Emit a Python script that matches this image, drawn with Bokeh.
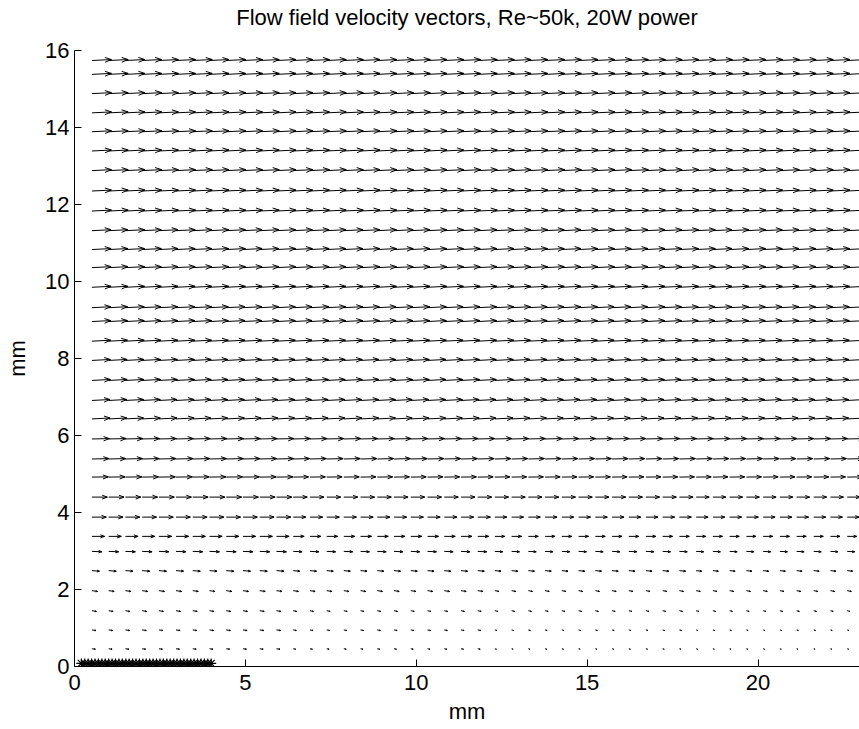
import numpy as np
from bokeh.plotting import figure
from bokeh.models import Range1d, FixedTicker, LinearAxis
from bokeh.embed import file_html
from bokeh.resources import INLINE

# ---------------- data ----------------
title_text = "Flow field velocity vectors, Re~50k, 20W power"
x_label = "mm"
y_label = "mm"
x_ticks = [0, 5, 10, 15, 20]
y_ticks = [0, 2, 4, 6, 8, 10, 12, 14, 16]

# measurement grid (mm)
x_cols = [0.51, 1.00, 1.49, 1.98, 2.47, 2.97, 3.46, 3.95, 4.44, 4.93,
          5.42, 5.91, 6.40, 6.89, 7.38, 7.88, 8.37, 8.86, 9.35, 9.84,
          10.33, 10.82, 11.31, 11.80, 12.30, 12.79, 13.28, 13.77, 14.26, 14.75,
          15.24, 15.73, 16.22, 16.72, 17.21, 17.70, 18.19, 18.68, 19.17, 19.66,
          20.15, 20.64, 21.13, 21.63, 22.12, 22.61]
y_rows = [0.46, 0.95, 1.45, 1.97, 2.49, 2.99, 3.38, 3.88, 4.40, 4.92, 5.39, 5.91,
          6.43, 6.91, 7.43, 7.95, 8.45, 8.96, 9.32, 9.85, 10.36, 10.83, 11.32, 11.83,
          12.35, 12.88, 13.39, 13.89, 14.38, 14.88, 15.38, 15.74]

# near-wall rows (first 12 rows): scaled u for column bands x<6, 6-12, 12-18, >18
band_edges = [6.0, 12.0, 18.0]
u_wall = [
    [0.10, 0.07, 0.045, 0.04],
    [0.12, 0.09, 0.06, 0.05],
    [0.13, 0.10, 0.09, 0.08],
    [0.16, 0.15, 0.12, 0.12],
    [0.22, 0.19, 0.18, 0.16],
    [0.29, 0.26, 0.23, 0.22],
    [0.37, 0.32, 0.29, 0.28],
    [0.42, 0.37, 0.35, 0.35],
    [0.45, 0.41, 0.40, 0.38],
    [0.48, 0.45, 0.44, 0.44],
    [0.50, 0.48, 0.47, 0.47],
    [0.51, 0.50, 0.50, 0.50],
]
v_wall = [-0.01, -0.015, -0.02, -0.02, -0.015, -0.01, 0.0, 0.0, 0.0, 0.005, 0.01, 0.01]

# outer rows (remaining 20 rows): scaled u and v
u_outer = [0.53, 0.53, 0.54, 0.54, 0.55, 0.55, 0.55, 0.56, 0.56, 0.56,
           0.56, 0.57, 0.57, 0.57, 0.57, 0.57, 0.57, 0.57, 0.57, 0.57]
v_outer = [0.025] * 20

# heater markers
heater_x = [0.2, 0.3, 0.4, 0.5, 0.6, 0.7, 0.8, 0.9, 1.0, 1.1, 1.2, 1.3, 1.4,
            1.5, 1.6, 1.7, 1.8, 1.9, 2.0, 2.1, 2.2, 2.3, 2.4, 2.5, 2.6, 2.7,
            2.8, 2.9, 3.0, 3.1, 3.2, 3.3, 3.4, 3.5, 3.6, 3.7, 3.8, 3.9, 4.0]
heater_y = [0.08] * len(heater_x)

# ---------------- build quiver segments (MATLAB style heads) ----------------
alpha, beta = 0.33, 0.33
xs, ys = [], []
n_wall = len(u_wall)
for i, y in enumerate(y_rows):
    for x in x_cols:
        if i < n_wall:
            band = int(np.searchsorted(band_edges, x))
            u = u_wall[i][band]
            v = v_wall[i]
        else:
            u = u_outer[i - n_wall]
            v = v_outer[i - n_wall]
        xs.append([x, x + u])
        ys.append([y, y + v])
        xs.append([x + u - alpha * (u + beta * v), x + u, x + u - alpha * (u - beta * v)])
        ys.append([y + v - alpha * (v - beta * u), y + v, y + v - alpha * (v + beta * u)])

FONT = "Liberation Sans"
FS = "22px"

p = figure(width=859, height=729, output_backend="svg", toolbar_location=None,
           x_range=Range1d(0, 22.97), y_range=Range1d(0, 16),
           min_border_left=74, min_border_right=0, min_border_top=50, min_border_bottom=63)

p.multi_line(xs=xs, ys=ys, line_color="black", line_width=1)
p.scatter(heater_x, heater_y, marker="asterisk", size=10, line_color="black", line_width=1.2)

xa = p.below[0]
ya = p.left[0]

# title: drawn as the label of an invisible axis above the plot, centred on the axes
title_axis = LinearAxis(ticker=FixedTicker(ticks=[]), axis_label=title_text,
                        axis_line_color=None, major_tick_line_color=None,
                        minor_tick_line_color=None,
                        axis_label_text_font=FONT, axis_label_text_font_size=FS,
                        axis_label_text_font_style="normal", axis_label_text_color="black",
                        axis_label_standoff=21)
p.add_layout(title_axis, "above")

p.grid.visible = False
p.outline_line_color = None
p.background_fill_color = "white"
p.border_fill_color = "white"

for ax in (xa, ya):
    ax.axis_line_color = "black"
    ax.major_tick_line_color = "black"
    ax.major_tick_in = 7
    ax.major_tick_out = 0
    ax.minor_tick_line_color = None
    ax.major_label_text_font = FONT
    ax.major_label_text_font_size = FS
    ax.major_label_text_color = "black"
    ax.axis_label_text_font = FONT
    ax.axis_label_text_font_size = FS
    ax.axis_label_text_font_style = "normal"
    ax.axis_label_text_color = "black"

xa.ticker = FixedTicker(ticks=x_ticks)
ya.ticker = FixedTicker(ticks=y_ticks)
xa.axis_label = x_label
ya.axis_label = y_label
xa.major_label_standoff = 8
xa.axis_label_standoff = 6
ya.major_label_standoff = 5
ya.axis_label_standoff = 12

open("out.html", "w").write(file_html(p, INLINE))
